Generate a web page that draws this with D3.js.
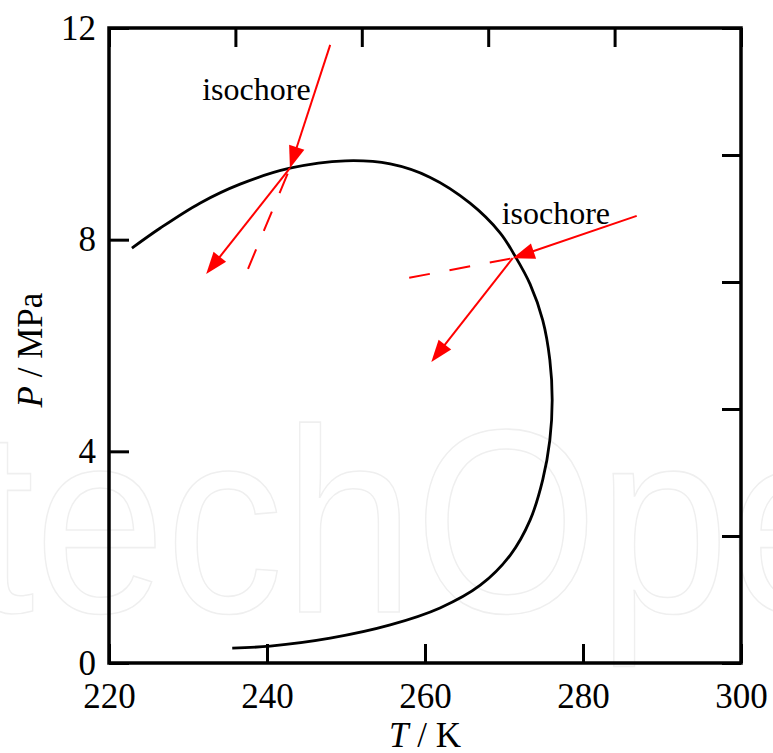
<!DOCTYPE html>
<html><head><meta charset="utf-8">
<script src="https://cdn.jsdelivr.net/npm/d3@7"></script>
<style>body{margin:0;background:#fff}svg{display:block}</style>
</head><body>
<script>
// ---- data ----
const curveT = [222.9,226.5,231.5,236.6,242.9,249.9,255.6,260.6,265.7,269.5,271.4,273.3,274.9,275.8,276.1,275.8,274.9,273.3,270.8,267.0,261.9,255.6,248.0,240.4,235.6];
const curveP = [7.84,8.22,8.69,9.05,9.35,9.49,9.43,9.18,8.69,8.13,7.69,7.16,6.48,5.73,4.97,4.21,3.46,2.70,2.04,1.47,1.04,0.72,0.47,0.32,0.28];
// left isochore: start, contact point, outgoing tip, dashed end
const isoLeftT = [248.0, 242.9, 232.3, 237.6];
const isoLeftP = [11.68, 9.35, 7.35, 7.45];
// right isochore
const isoRightT = [286.8, 271.1, 260.8, 258.0];
const isoRightP = [8.45, 7.65, 5.69, 7.28];
const xTicks = [220, 240, 260, 280, 300];
const yTicks = [0, 4, 8, 12];
const topTicks = [220, 236, 252, 268, 284, 300];
const rightTicks = [0, 2.4, 4.8, 7.2, 9.6, 12];
const labels = [{text:"isochore", T:231.8, P:10.64}, {text:"isochore", T:269.7, P:8.29}];

const W = 773, H = 753;
const svg = d3.select("body").append("svg").attr("width", W).attr("height", H);
const x = d3.scaleLinear().domain([220, 300]).range([109, 741]);
const y = d3.scaleLinear().domain([0, 12]).range([663, 28]);
const font = "'Liberation Serif','Times New Roman',serif";

// watermark
svg.append("text").attr("transform", "translate(8,0) scale(0.9,1)")
  .attr("x", -262).attr("y", 612)
  .attr("font-family", "'Liberation Sans',Arial,sans-serif").attr("font-size", 262)
  .attr("fill", "none").attr("stroke", "#efefef").attr("stroke-width", 1.6)
  .text("IntechOpen");

// axes
function styleAxis(g){
  g.select(".domain").remove();
  g.selectAll(".tick line").attr("stroke", "#000").attr("stroke-width", 3);
  g.selectAll(".tick text").attr("font-family", font).attr("font-size", 35).attr("fill", "#000");
}
svg.append("g").attr("transform", `translate(0,${y(0)})`)
  .call(d3.axisBottom(x).tickValues(xTicks).tickSize(-19).tickPadding(20).tickFormat(d3.format("d")))
  .call(styleAxis);
svg.append("g").attr("transform", `translate(${x(220)},0)`)
  .call(d3.axisLeft(y).tickValues(yTicks).tickSize(-20).tickPadding(13).tickFormat(d3.format("d")))
  .call(styleAxis);
svg.append("g").attr("transform", `translate(0,${y(12)})`)
  .call(d3.axisTop(x).tickValues(topTicks).tickSize(-19).tickFormat(""))
  .call(styleAxis);
svg.append("g").attr("transform", `translate(${x(300)},0)`)
  .call(d3.axisRight(y).tickValues(rightTicks).tickSize(-19).tickFormat(""))
  .call(styleAxis);

svg.append("rect").attr("x", x(220)).attr("y", y(12))
  .attr("width", x(300) - x(220)).attr("height", y(0) - y(12))
  .attr("fill", "none").attr("stroke", "#000").attr("stroke-width", 3.5);

// curve
const pts = curveT.map((t, i) => [t, curveP[i]]);
svg.append("path").datum(pts)
  .attr("d", d3.line().x(d => x(d[0])).y(d => y(d[1])).curve(d3.curveCatmullRom.alpha(0.5)))
  .attr("fill", "none").attr("stroke", "#000").attr("stroke-width", 2.8);

// arrows
function arrow(t0, p0, t1, p1){
  const x0 = x(t0), y0 = y(p0), x1 = x(t1), y1 = y(p1);
  const dx = x1 - x0, dy = y1 - y0, L = Math.hypot(dx, dy);
  const ux = dx / L, uy = dy / L, hl = 22, hw = 8;
  svg.append("line").attr("x1", x0).attr("y1", y0)
    .attr("x2", x1 - ux * hl * 0.8).attr("y2", y1 - uy * hl * 0.8)
    .attr("stroke", "#ff0000").attr("stroke-width", 2);
  const bx = x1 - ux * hl, by = y1 - uy * hl;
  svg.append("path")
    .attr("d", `M${x1},${y1}L${bx - uy * hw},${by + ux * hw}L${bx + uy * hw},${by - ux * hw}Z`)
    .attr("fill", "#ff0000");
}
function dashed(t0, p0, t1, p1){
  svg.append("line").attr("x1", x(t0)).attr("y1", y(p0)).attr("x2", x(t1)).attr("y2", y(p1))
    .attr("stroke", "#ff0000").attr("stroke-width", 2).attr("stroke-dasharray", "21 20");
}
for (const [T, P] of [[isoLeftT, isoLeftP], [isoRightT, isoRightP]]) {
  dashed(T[3], P[3], T[1], P[1]);
  arrow(T[0], P[0], T[1], P[1]);
  arrow(T[1], P[1], T[2], P[2]);
}

// labels
svg.selectAll("text.lab").data(labels).enter().append("text").attr("class", "lab")
  .attr("x", d => x(d.T)).attr("y", d => y(d.P))
  .attr("font-family", font).attr("font-size", 32).attr("fill", "#000")
  .text(d => d.text);

// axis titles
const xt = svg.append("text").attr("x", 425).attr("y", 747).attr("text-anchor", "middle")
  .attr("font-family", font).attr("font-size", 35).attr("fill", "#000");
xt.append("tspan").attr("font-style", "italic").text("T");
xt.append("tspan").text(" / K");
const yt = svg.append("text").attr("transform", "translate(42,350) rotate(-90)").attr("text-anchor", "middle")
  .attr("font-family", font).attr("font-size", 35).attr("fill", "#000");
yt.append("tspan").attr("font-style", "italic").text("P");
yt.append("tspan").text(" / MPa");
</script>
</body></html>
